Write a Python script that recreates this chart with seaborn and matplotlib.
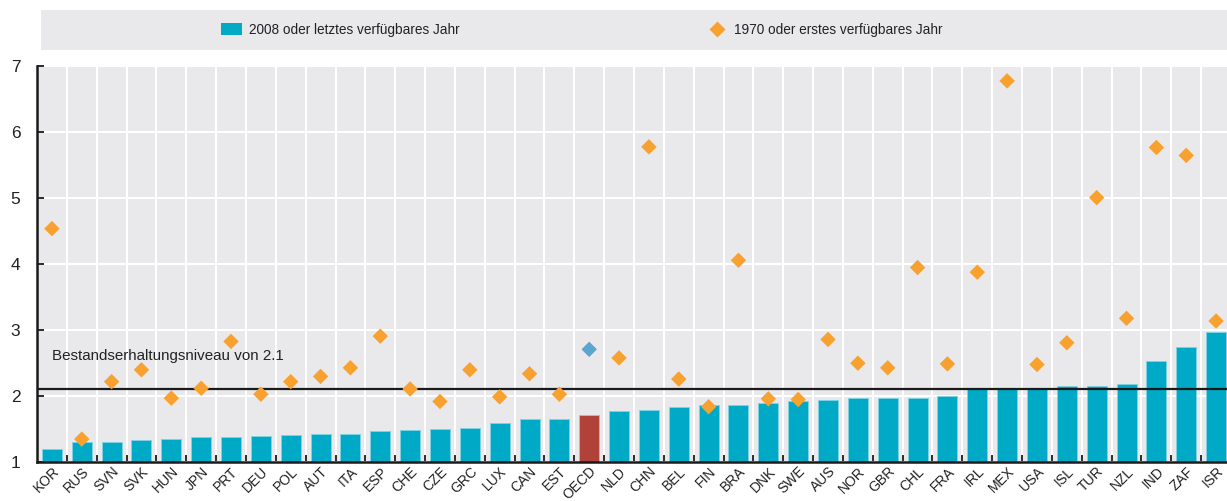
import numpy as np
import pandas as pd
import matplotlib
matplotlib.use("Agg")
import matplotlib.pyplot as plt
from matplotlib.patches import Patch, Rectangle
from matplotlib.lines import Line2D
from matplotlib.ticker import FixedLocator
import seaborn as sns

countries = ["KOR", "RUS", "SVN", "SVK", "HUN", "JPN", "PRT", "DEU", "POL", "AUT",
             "ITA", "ESP", "CHE", "CZE", "GRC", "LUX", "CAN", "EST", "OECD", "NLD",
             "CHN", "BEL", "FIN", "BRA", "DNK", "SWE", "AUS", "NOR", "GBR", "CHL",
             "FRA", "IRL", "MEX", "USA", "ISL", "TUR", "NZL", "IND", "ZAF", "ISR"]
latest_2008 = [1.19, 1.29, 1.30, 1.32, 1.34, 1.37, 1.37, 1.38, 1.40, 1.41,
               1.41, 1.46, 1.48, 1.50, 1.51, 1.59, 1.65, 1.65, 1.71, 1.77,
               1.78, 1.82, 1.85, 1.86, 1.89, 1.91, 1.93, 1.96, 1.96, 1.96,
               1.99, 2.10, 2.10, 2.12, 2.14, 2.14, 2.18, 2.53, 2.73, 2.96]
first_1970 = [4.53, 1.34, 2.21, 2.39, 1.96, 2.11, 2.82, 2.02, 2.21, 2.29,
              2.42, 2.90, 2.10, 1.91, 2.39, 1.98, 2.33, 2.02, 2.70, 2.57,
              5.77, 2.25, 1.83, 4.05, 1.95, 1.94, 2.85, 2.49, 2.42, 3.94,
              2.48, 3.87, 6.77, 2.47, 2.80, 5.00, 3.17, 5.76, 5.64, 3.13]
replacement_level = 2.1
legend_labels = ["2008 oder letztes verfügbares Jahr", "1970 oder erstes verfügbares Jahr"]
ref_label = "Bestandserhaltungsniveau von 2.1"

TEAL = "#00A9C6"
RED = "#B0423A"
ORANGE = "#F9A12E"
BLUE = "#5CA5D1"
BG = "#E9E9EC"

sns.set_theme(style="white")
plt.rcParams["font.family"] = ["Liberation Sans", "DejaVu Sans"]

df = pd.DataFrame({"country": countries, "latest": latest_2008, "first": first_1970})
df["pos"] = np.arange(len(df))
bar_pal = {c: (RED if c == "OECD" else TEAL) for c in countries}
dot_pal = {c: (BLUE if c == "OECD" else ORANGE) for c in countries}

fig = plt.figure(figsize=(12.27, 5.01), dpi=100)
ax = fig.add_axes([37 / 1227, 1 - 461.5 / 501, (1227 - 37) / 1227, (461.5 - 65.7) / 501])
ax.set_facecolor(BG)

sns.barplot(data=df, x="country", y="latest", hue="country", palette=bar_pal,
            legend=False, width=0.67, saturation=1, ax=ax, zorder=2,
            edgecolor="#7FD3E2", linewidth=0.6)
sns.scatterplot(data=df, x="pos", y="first", hue="country", palette=dot_pal,
                marker="D", s=62, linewidth=0, legend=False, ax=ax, zorder=4)

ax.axhline(replacement_level, color="#1a1a1a", lw=1.6, zorder=3)
ax.text(0.0, 2.6, ref_label, ha="left", va="center", fontsize=10.9, color="#222222", zorder=5)

n = len(countries)
ax.set_xlim(-0.5, n - 0.5 - 4 / 29.85)
ax.set_ylim(1, 7)
ax.set_yticks(range(1, 8))
ax.set_xticks(range(n))
ax.set_xticklabels(countries, rotation=45, ha="right", rotation_mode="anchor",
                   fontsize=10, color="#222222")
ax.xaxis.set_minor_locator(FixedLocator(np.arange(n) + 0.5))
ax.tick_params(axis="x", which="major", length=0, pad=2)
ax.tick_params(axis="x", which="minor", direction="in", length=5, width=1.3, color="#1a1a1a", bottom=True)
ax.tick_params(axis="y", which="major", direction="in", length=5, width=1.3, color="#1a1a1a",
               labelsize=12.5, labelcolor="#222222", pad=12, left=True)
ax.set_xlabel("")
ax.set_ylabel("")

ax.grid(False)
ax.grid(axis="y", which="major", color="white", lw=1.5, zorder=0)
ax.grid(axis="x", which="minor", color="white", lw=1.5, zorder=0)
ax.set_axisbelow(True)

for s in ["top", "right"]:
    ax.spines[s].set_visible(False)
for s in ["left", "bottom"]:
    ax.spines[s].set_visible(True)
    ax.spines[s].set_color("#1a1a1a")
    ax.spines[s].set_linewidth(1.8)
    ax.spines[s].set_zorder(6)

fig.patches.append(Rectangle((41 / 1227, 1 - 50 / 501), (1227 - 41) / 1227, 40 / 501,
                             transform=fig.transFigure, facecolor=BG, edgecolor="none", zorder=0))
handles = [Patch(facecolor=TEAL, edgecolor="none"),
           Line2D([], [], marker="D", linestyle="none", markerfacecolor=ORANGE,
                  markeredgecolor="none", markersize=8)]
fig.legend(handles, legend_labels, loc="center", bbox_to_anchor=(582 / 1227, 1 - 30 / 501),
           ncol=2, frameon=False, fontsize=9.8, handlelength=1.54, handleheight=0.95,
           handletextpad=0.5, columnspacing=18.1, labelcolor="#222222")

fig.savefig("out.png", dpi=100)
